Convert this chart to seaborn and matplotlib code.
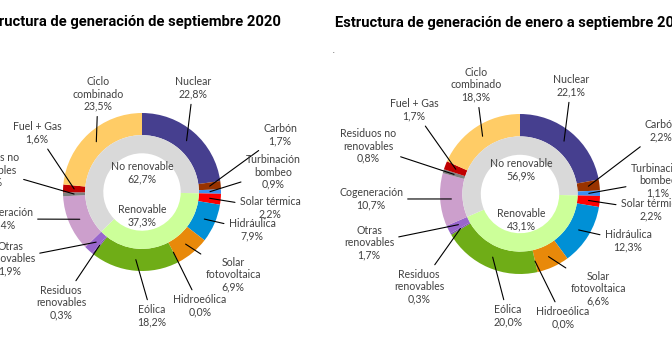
import numpy as np
import matplotlib.pyplot as plt
import seaborn as sns

# generation structure, % of total (outer ring, clockwise from 12 o'clock)
sources = ["Nuclear", "Carbón", "Turbinación\nbombeo", "Solar térmica", "Hidráulica",
           "Solar\nfotovoltaica", "Hidroeólica", "Eólica", "Residuos\nrenovables",
           "Otras\nrenovables", "Cogeneración", "Residuos no\nrenovables", "Fuel + Gas",
           "Ciclo\ncombinado"]
renewable = [False, False, False, True, True, True, True, True, True, True,
             False, False, False, False]
sep_2020 = [22.8, 1.7, 0.9, 2.2, 7.9, 6.9, 0.0, 18.2, 0.3, 1.9, 11.4, 0.8, 1.6, 23.5]
ene_sep_2020 = [22.1, 2.2, 1.1, 2.2, 12.3, 6.6, 0.0, 20.0, 0.3, 1.7, 10.7, 0.8, 1.7, 18.3]

groups = ["No renovable", "Renovable"]
sep_groups = [62.7, 37.3]
ene_sep_groups = [56.9, 43.1]

titles = ["Estructura de generación de septiembre 2020",
          "Estructura de generación de enero a septiembre 2020"]

colors = ["#463f8f", "#993300", "#3d8ff0", "#ff0000", "#0090d6", "#e8890a", "#2f6ab0",
          "#6fad17", "#7f4fb3", "#9966cc", "#cc9fcc", "#7f7f7f", "#c00000", "#ffcc66"]
grey_inner = "#d9d9d9"
green_inner = "#ccff99"
txt_col = "#404040"

W, H = 672, 351

# layout in pixels: centre, radius, label positions
layouts = [
    dict(cx=142, cy=192, R=79, no_ren=(142, 173), ren=(142, 216),
         title=(281, 22, "right"),
         labels=[(193, 88), (280, 135), (273, 172), (270, 208), (252, 230), (233, 275),
                 (200, 306), (152, 316), (61, 303), (10, 259), (1, 219), (-9, 170),
                 (37, 133), (98, 94)]),
    dict(cx=520, cy=194, R=80, no_ren=(521, 170), ren=(521, 220),
         title=(335, 23, "left"),
         labels=[(571, 86), (661, 131), (658, 181), (651, 210), (628, 241), (598, 289),
                 (563, 318), (508, 316), (419, 287), (369, 243), (371, 199), (368, 146),
                 (414, 110), (476, 85)]),
]

sns.set_theme(style="white")
plt.rcParams['font.family'] = ['Lato', 'DejaVu Sans']

fig = plt.figure(figsize=(W / 100, H / 100), dpi=100)
fig.patch.set_facecolor("white")


def fmt(v):
    return f"{v:.1f}".replace(".", ",") + "%"


for values, totals, title, lay in zip([sep_2020, ene_sep_2020], [sep_groups, ene_sep_groups],
                                      titles, layouts):
    cx, cy, R = lay["cx"], lay["cy"], lay["R"]
    ax = fig.add_axes([0, 0, 1, 1])
    ax.patch.set_alpha(0)

    def px(p):
        return ((p[0] - cx) / R, (cy - p[1]) / R)

    ax.pie(values, colors=colors, startangle=90, counterclock=False, radius=1.0,
           wedgeprops=dict(width=0.28, linewidth=0))

    # inner ring: contiguous runs of renewable / non renewable
    runs, run_cols = [], []
    for v, r in zip(values, renewable):
        c = green_inner if r else grey_inner
        if run_cols and run_cols[-1] == c:
            runs[-1] += v
        else:
            runs.append(v)
            run_cols.append(c)
    ax.pie(runs, colors=run_cols, startangle=90, counterclock=False, radius=0.72,
           wedgeprops=dict(width=0.23, linewidth=0))

    total = sum(values)
    cum = np.cumsum([0] + values[:-1])
    for name, v, c0, lp in zip(sources, values, cum, lay["labels"]):
        ang = np.deg2rad(90 - 360 * (c0 + v / 2) / total)
        xy = (0.86 * np.cos(ang), 0.86 * np.sin(ang))
        ax.annotate(f"{name}\n{fmt(v)}", xy=xy, xytext=px(lp), ha="center", va="center",
                    fontsize=7.6, color=txt_col, linespacing=1.15, annotation_clip=False,
                    arrowprops=dict(arrowstyle="-", color="black", lw=0.8,
                                    shrinkA=1, shrinkB=0))

    for g, t, key in zip(groups, totals, ["no_ren", "ren"]):
        ax.text(*px(lay[key]), f"{g}\n{fmt(t)}", ha="center", va="center",
                fontsize=7.6, color=txt_col, linespacing=1.15)

    ax.set_xlim(-cx / R, (W - cx) / R)
    ax.set_ylim(-(H - cy) / R, cy / R)
    ax.set_aspect("auto")
    ax.axis("off")

    tx, ty, tha = lay["title"]
    fig.text(tx / W, 1 - ty / H, title, ha=tha, va="center", fontsize=10.6,
             fontweight="bold", family=["Roboto", "DejaVu Sans"], color="black")

fig.text(333 / W, 1 - 54 / H, ".", ha="center", va="bottom", fontsize=5, color=txt_col)

fig.savefig("out.png", dpi=100)
